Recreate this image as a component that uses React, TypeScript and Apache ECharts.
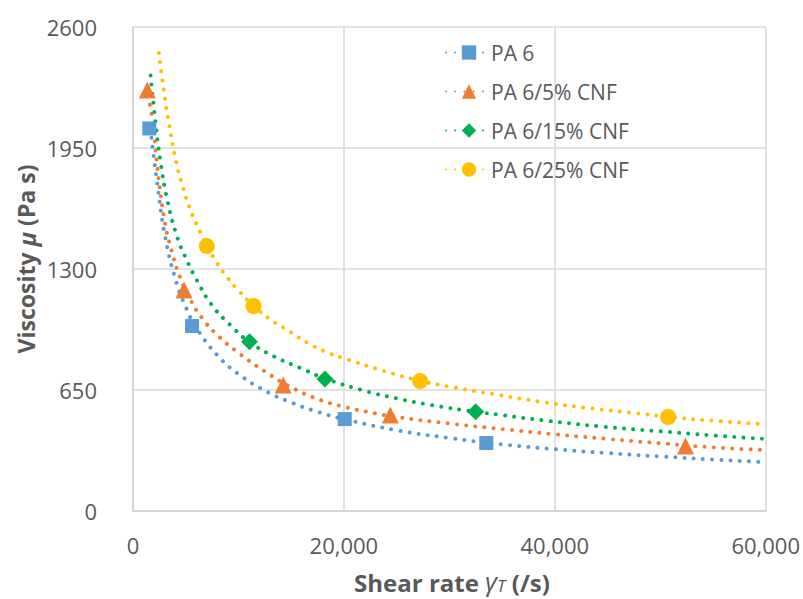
import React, { useEffect, useRef } from "react";
import * as echarts from "echarts";

const seriesNames = ["PA 6", "PA 6/5% CNF", "PA 6/15% CNF", "PA 6/25% CNF"];
const colors = ["#5B9BD5", "#ED7D31", "#00B050", "#FFC000"];
const symbols = ["rect", "triangle", "diamond", "circle"];
const symbolSizes = [14, 17, 17, 16];

const xTicks = [0, 20000, 40000, 60000];
const yTicks = [0, 650, 1300, 1950, 2600];

// measured points (markers)
const pa6Points = [[1550, 2055], [5600, 994], [20080, 494], [33500, 365]];
const pa6Cnf5Points = [[1360, 2261], [4840, 1187], [14250, 677], [24400, 516], [52400, 349]];
const pa6Cnf15Points = [[11050, 909], [18200, 709], [32500, 533]];
const pa6Cnf25Points = [[7000, 1423], [11430, 1101], [27230, 698], [50750, 505]];

// dotted trend lines
const pa6Trend = [[1750, 2005], [2300, 1760], [3000, 1490], [4000, 1250], [5000, 1096], [6000, 985], [8000, 837], [10000, 736], [12500, 647], [15000, 583], [17500, 533], [20000, 494], [25000, 434], [30000, 392], [35000, 358], [40000, 332], [45000, 311], [50000, 293], [55000, 277], [60000, 262]];
const pa6Cnf5Trend = [[1400, 2230], [1830, 2110], [2300, 1850], [3000, 1560], [3650, 1400], [4500, 1250], [5500, 1130], [6500, 1040], [8000, 945], [10000, 850], [12500, 750], [15000, 665], [17500, 602], [20000, 560], [22500, 530], [25000, 505], [30000, 470], [35000, 440], [40000, 412], [45000, 387], [50000, 364], [55000, 342], [60000, 328]];
const pa6Cnf15Trend = [[1670, 2340], [2050, 2130], [2600, 1880], [3300, 1660], [4200, 1470], [5000, 1360], [6000, 1245], [7500, 1105], [9400, 990], [11000, 910], [13400, 830], [16000, 765], [18200, 712], [22000, 645], [25000, 605], [28200, 570], [32500, 533], [35000, 515], [38900, 487], [44500, 453], [50000, 428], [55000, 406], [60000, 387]];
const pa6Cnf25Trend = [[2450, 2460], [3000, 2230], [3400, 2085], [4000, 1900], [4700, 1745], [5500, 1610], [6400, 1495], [7000, 1425], [8000, 1330], [9000, 1250], [10000, 1185], [11400, 1105], [13000, 1030], [14700, 970], [16500, 905], [18500, 850], [20000, 820], [23800, 752], [27200, 700], [30000, 668], [34500, 625], [38900, 585], [43300, 552], [47600, 526], [50700, 506], [55000, 485], [60000, 466]];

const pointSets = [pa6Points, pa6Cnf5Points, pa6Cnf15Points, pa6Cnf25Points];
const trendSets = [pa6Trend, pa6Cnf5Trend, pa6Cnf15Trend, pa6Cnf25Trend];

const FONT = "'Open Sans', 'Noto Sans', sans-serif";
const TEXT = "#595959";

export default function App() {
  const ref = useRef<HTMLDivElement>(null);
  useEffect(() => {
    if (!ref.current) return;
    const chart = echarts.init(ref.current, undefined, { renderer: "svg" });
    const lineSeries = seriesNames.map((name, i) => ({
      name,
      type: "line",
      data: trendSets[i],
      smooth: true,
      showSymbol: false,
      symbol: symbols[i],
      symbolSize: symbolSizes[i],
      itemStyle: { color: colors[i] },
      lineStyle: { color: colors[i], width: 4, type: [0.01, 9.2], cap: "round" },
      z: 2,
      silent: true,
    }));
    const scatterSeries = seriesNames.map((name, i) => ({
      name,
      type: "scatter",
      data: pointSets[i],
      symbol: symbols[i],
      symbolSize: symbolSizes[i],
      itemStyle: { color: colors[i], opacity: 1 },
      z: 3,
    }));
    chart.setOption({
      animation: false,
      backgroundColor: "#ffffff",
      grid: { left: 133, right: 31, top: 27, bottom: 88, containLabel: false },
      legend: {
        data: seriesNames,
        orient: "vertical",
        left: 440,
        top: 37,
        itemWidth: 46,
        itemHeight: 18,
        itemGap: 18,
        textStyle: { color: TEXT, fontSize: 21, fontFamily: FONT, padding: [0, 0, 0, -6] },
      },
      xAxis: {
        type: "value",
        min: 0,
        max: 60000,
        interval: 20000,
        axisLine: { show: true, lineStyle: { color: "#D0D0D0", width: 1.5 } },
        axisTick: { show: false },
        splitLine: { show: true, lineStyle: { color: "#D9D9D9", width: 1.5 } },
        axisLabel: {
          color: TEXT,
          fontSize: 22,
          fontFamily: FONT,
          margin: 23,
          formatter: (v: number) => (xTicks.includes(v) ? v.toLocaleString("en-US") : ""),
        },
      },
      yAxis: {
        type: "value",
        min: 0,
        max: 2600,
        interval: 650,
        axisLine: { show: true, lineStyle: { color: "#D0D0D0", width: 1.5 } },
        axisTick: { show: false },
        splitLine: { show: true, lineStyle: { color: "#D9D9D9", width: 1.5 } },
        axisLabel: {
          color: TEXT,
          fontSize: 22,
          fontFamily: FONT,
          margin: 36,
          formatter: (v: number) => (yTicks.includes(v) ? String(v) : ""),
        },
      },
      graphic: [
        {
          type: "text",
          x: 452,
          y: 582,
          style: {
            text: "{b|Shear rate }{g|γ}{t|T}{b| (/s)}",
            textAlign: "center",
            textVerticalAlign: "middle",
            rich: {
              b: { fontSize: 24, fontWeight: "bold", fontFamily: FONT, fill: TEXT, color: TEXT, lineHeight: 24, verticalAlign: "bottom" },
              g: { fontSize: 26, fontStyle: "italic", fontFamily: FONT, fill: TEXT, color: TEXT, lineHeight: 24, verticalAlign: "bottom" },
              t: { fontSize: 17, fontStyle: "italic", fontFamily: FONT, fill: TEXT, color: TEXT, lineHeight: 20, verticalAlign: "bottom" },
            },
          },
        },
        {
          type: "text",
          x: 26,
          y: 259,
          rotation: Math.PI / 2,
          style: {
            text: "{b|Viscosity }{g|μ}{b| (Pa s)}",
            textAlign: "center",
            textVerticalAlign: "middle",
            rich: {
              b: { fontSize: 23, fontWeight: "bold", fontFamily: FONT, fill: TEXT, color: TEXT },
              g: { fontSize: 24, fontStyle: "italic", fontWeight: "bold", fontFamily: FONT, fill: TEXT, color: TEXT },
            },
          },
        },
      ],
      series: [...lineSeries, ...scatterSeries],
    });
    return () => chart.dispose();
  }, []);
  return (
    <div
      ref={ref}
      style={{ position: "absolute", left: 0, top: 0, width: 803, height: 599, background: "#fff" }}
    />
  );
}
